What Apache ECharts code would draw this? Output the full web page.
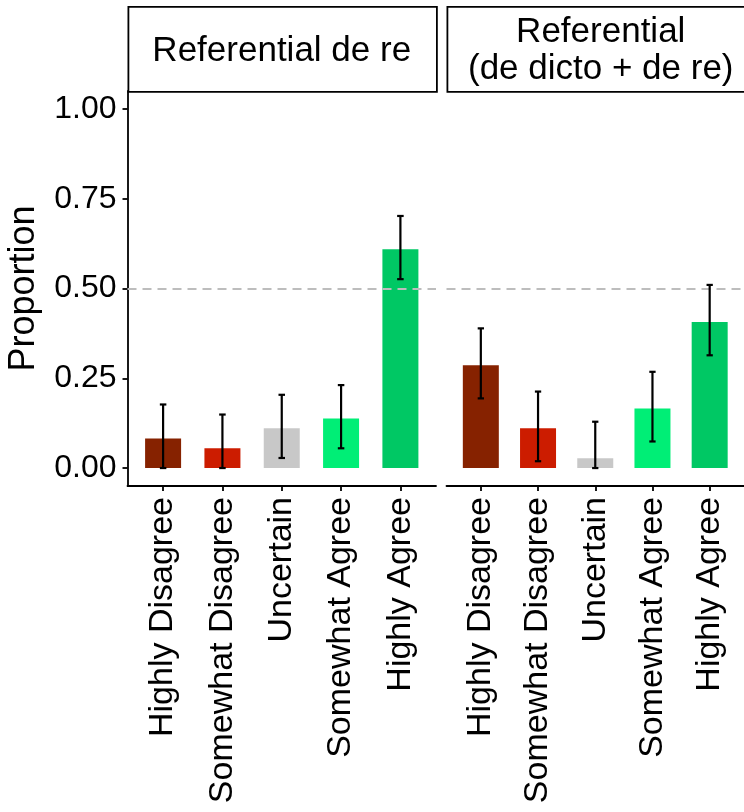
<!DOCTYPE html>
<html><head><meta charset="utf-8">
<script src="https://cdn.jsdelivr.net/npm/echarts@6/dist/echarts.min.js"></script>
<style>html,body{margin:0;padding:0;background:#fff}#c{width:744px;height:812px}</style>
</head><body><div id="c"></div>
<script>
const categories = ['Highly Disagree', 'Somewhat Disagree', 'Uncertain', 'Somewhat Agree', 'Highly Agree'];
const panelTitles = ['Referential de re', 'Referential\n(de dicto + de re)'];
const deReValues = [0.082, 0.055, 0.111, 0.138, 0.609];
const deReLower  = [0.000, 0.000, 0.028, 0.055, 0.526];
const deReUpper  = [0.177, 0.149, 0.204, 0.231, 0.702];
const mixedValues = [0.286, 0.111, 0.027, 0.166, 0.407];
const mixedLower  = [0.194, 0.019, 0.000, 0.074, 0.314];
const mixedUpper  = [0.389, 0.213, 0.129, 0.268, 0.510];
const yTicks = [0, 0.25, 0.5, 0.75, 1];
const referenceLine = 0.5;
const colors = ['#862200', '#CC1C00', '#C8C8C8', '#00EE76', '#00C864'];

const FONT = 'Liberation Sans, Arial, sans-serif';
const positions = categories.map((c, i) => i + 1);
const panels = [
  {values: deReValues, lower: deReLower, upper: deReUpper},
  {values: mixedValues, lower: mixedLower, upper: mixedUpper}
];
const gridLeft = [127.5, 446.5];
const gridW = 308.5, gridTop = 91, gridH = 395;

function errRender(params, api) {
  const x = api.value(0), lo = api.value(1), hi = api.value(2);
  const top = api.coord([x, hi]), bot = api.coord([x, lo]);
  const l = api.coord([x - 0.055, hi])[0], r = api.coord([x + 0.055, hi])[0];
  const style = {stroke: '#000', lineWidth: 2.2};
  return {type: 'group', children: [
    {type: 'line', shape: {x1: top[0], y1: top[1], x2: bot[0], y2: bot[1]}, style: style},
    {type: 'line', shape: {x1: l, y1: top[1], x2: r, y2: top[1]}, style: style},
    {type: 'line', shape: {x1: l, y1: bot[1], x2: r, y2: bot[1]}, style: style}
  ]};
}

const grids = gridLeft.map(l => ({left: l, top: gridTop, width: gridW, height: gridH, containLabel: false}));
const xAxes = gridLeft.map((l, gi) => ({
  type: 'value', gridIndex: gi, min: 0.4, max: 5.6,
  splitLine: {show: false},
  axisLine: {show: true, onZero: false, lineStyle: {color: '#000', width: 1.8}},
  axisTick: {show: true, customValues: positions, length: 5, lineStyle: {color: '#000', width: 1.8}},
  axisLabel: {show: true, customValues: positions, rotate: 90, margin: 11,
    formatter: v => categories[Math.round(v) - 1], fontFamily: FONT, fontSize: 34, color: '#000'}
}));
const yAxes = gridLeft.map((l, gi) => ({
  type: 'value', gridIndex: gi, min: -0.05, max: 1.05,
  splitLine: {show: false},
  name: gi === 0 ? 'Proportion' : '',
  nameLocation: 'middle', nameGap: 85,
  nameTextStyle: {fontFamily: FONT, fontSize: 36, color: '#000'},
  axisLine: {show: gi === 0, onZero: false, lineStyle: {color: '#000', width: 1.8}},
  axisTick: {show: gi === 0, customValues: yTicks, length: 5, lineStyle: {color: '#000', width: 1.8}},
  axisLabel: {show: gi === 0, customValues: yTicks, margin: 11,
    formatter: v => v.toFixed(2), fontFamily: FONT, fontSize: 32, color: '#000'}
}));

const series = [];
panels.forEach((p, gi) => {
  series.push({
    type: 'bar', xAxisIndex: gi, yAxisIndex: gi, barWidth: 36,
    data: categories.map((c, i) => ({value: [positions[i], p.values[i]], itemStyle: {color: colors[i]}})),
    markLine: {silent: true, symbol: 'none', label: {show: false},
      lineStyle: {type: [9, 6], color: '#BDBDBD', width: 2},
      data: [{yAxis: referenceLine}]}
  });
  series.push({
    type: 'custom', xAxisIndex: gi, yAxisIndex: gi, z: 5,
    renderItem: errRender,
    encode: {x: 0, y: [1, 2]},
    data: categories.map((c, i) => [positions[i], p.lower[i], p.upper[i]])
  });
});

const graphics = [];
gridLeft.forEach((l, gi) => {
  graphics.push({type: 'rect', left: l, top: 6, shape: {x: 0, y: 0, width: gridW, height: gridTop - 6},
    style: {fill: '#fff', stroke: '#000', lineWidth: 1.8}, z: 10});
  graphics.push({type: 'text', x: l + gridW / 2, y: 51, z: 11,
    style: {text: panelTitles[gi], fontFamily: FONT, fontSize: 35, lineHeight: 37,
      align: 'center', verticalAlign: 'middle', fill: '#000'}});
});

const chart = echarts.init(document.getElementById('c'), null, {renderer: 'canvas'});
chart.setOption({
  animation: false,
  backgroundColor: '#fff',
  grid: grids, xAxis: xAxes, yAxis: yAxes, series: series, graphic: graphics
});
</script></body></html>
